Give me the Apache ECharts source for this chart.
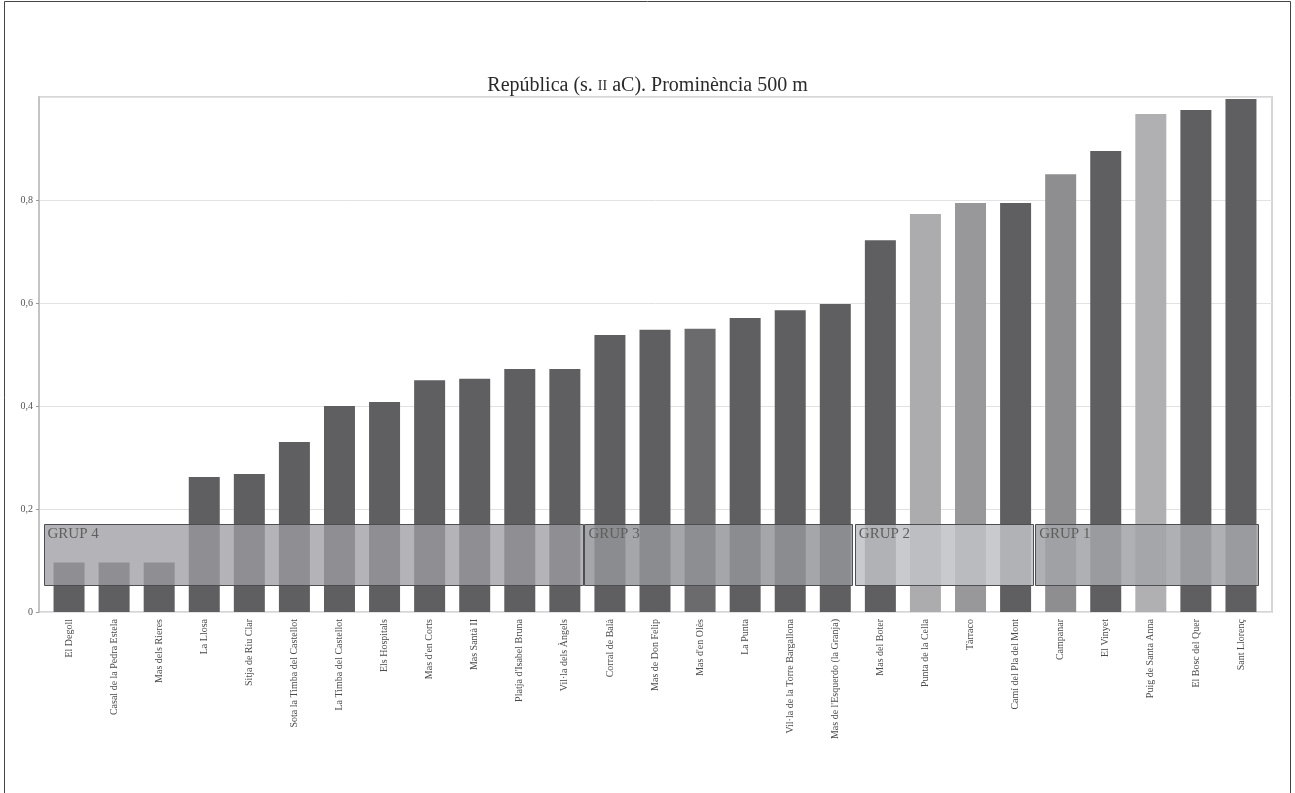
<!DOCTYPE html>
<html>
<head>
<meta charset="utf-8">
<script src="https://cdn.jsdelivr.net/npm/echarts@6/dist/echarts.min.js"></script>
<style>
html,body{margin:0;padding:0;background:#fff;}
#chart{width:1295px;height:793px;}
</style>
</head>
<body>
<div id="chart"></div>
<script>
// ---------- DATA ----------
const titleText = "República (s. {sc|II} aC). Prominència 500 m";
const categories = [
  "El Degoll", "Casal de la Pedra Estela", "Mas dels Rieres", "La Llosa",
  "Sitja de Riu Clar", "Sota la Timba del Castellot", "La Timba del Castellot",
  "Els Hospitals", "Mas d'en Corts", "Mas Santà II", "Platja d'Isabel Bruna",
  "Vil·la dels Àngels", "Corral de Balà", "Mas de Don Felip", "Mas d'en Olès",
  "La Punta", "Vil·la de la Torre Bargallona", "Mas de l'Esquerdo (la Granja)",
  "Mas del Boter", "Punta de la Cella", "Tàrraco", "Camí del Pla del Mont",
  "Campanar", "El Vinyet", "Puig de Santa Anna", "El Bosc del Quer", "Sant Llorenç"
];
const values = [
  0.096, 0.096, 0.096, 0.262, 0.268, 0.330, 0.400, 0.408, 0.450, 0.453,
  0.472, 0.472, 0.538, 0.548, 0.550, 0.571, 0.586, 0.598, 0.722, 0.773,
  0.794, 0.794, 0.850, 0.895, 0.967, 0.975, 0.996
];
const yTicks = [0, 0.2, 0.4, 0.6, 0.8];
const groupNames = ["GRUP 4", "GRUP 3", "GRUP 2", "GRUP 1"];
const groupStart = [0, 12, 18, 22];
const groupEnd = [11, 17, 21, 26];
const groupLow = [0.052, 0.052, 0.052, 0.052];
const groupHigh = [0.171, 0.171, 0.171, 0.171];

// ---------- STYLES ----------
const darkBar = '#5f5f61';
const barColorOverrides = {
  "Mas d'en Olès": '#6b6b6d',
  "Punta de la Cella": '#acacae',
  "Tàrraco": '#98989a',
  "Campanar": '#8e8e90',
  "Puig de Santa Anna": '#b0b0b2'
};
const groupFill = {
  "GRUP 4": 'rgba(157,158,163,0.77)',
  "GRUP 3": 'rgba(148,149,153,0.84)',
  "GRUP 2": 'rgba(192,193,197,0.85)',
  "GRUP 1": 'rgba(163,164,168,0.87)'
};
const serif = '"Liberation Serif", "DejaVu Serif", serif';

const chart = echarts.init(document.getElementById('chart'));

const barData = categories.map((c, i) => ({
  value: values[i],
  itemStyle: { color: barColorOverrides[c] || darkBar }
}));

const groupData = groupNames.map((g, i) => ({
  name: g,
  value: [groupStart[i], groupEnd[i], groupLow[i], groupHigh[i]]
}));

const option = {
  animation: false,
  backgroundColor: '#ffffff',
  title: {
    text: titleText,
    left: 'center',
    top: 71,
    textStyle: {
      fontFamily: serif, fontSize: 20, fontWeight: 'normal', color: '#2a2a2a',
      rich: { sc: { fontFamily: serif, fontSize: 14, color: '#2a2a2a' } }
    }
  },
  graphic: [{
    type: 'rect', silent: true, z: 100,
    shape: { x: 4.5, y: 1.5, width: 1286, height: 820 },
    style: { fill: null, stroke: '#444', lineWidth: 1 }
  }],
  grid: [
    { left: 39, right: 23, top: 97, bottom: 181, show: true, borderColor: '#d6d6d6', borderWidth: 2 },
    { left: 46.5, right: 31.5, top: 97, bottom: 181 }
  ],
  xAxis: [
    { type: 'value', gridIndex: 0, show: false, min: 0, max: 1 },
    {
      type: 'category', gridIndex: 1, data: categories,
      axisLine: { show: false }, axisTick: { show: false },
      axisLabel: {
        rotate: 90, interval: 0, margin: 7,
        fontFamily: serif, fontSize: 10, color: '#4a4a4a'
      }
    }
  ],
  yAxis: [
    {
      type: 'value', gridIndex: 0, min: yTicks[0], max: 1, interval: 0.2,
      axisLine: { show: true, lineStyle: { color: '#c4c4c4', width: 2 } },
      axisTick: { show: true, length: 3, lineStyle: { color: '#999' } },
      axisLabel: {
        showMaxLabel: false, margin: 6,
        fontFamily: serif, fontSize: 10, color: '#555',
        formatter: v => (v === 0 ? '0' : String(Math.round(v * 10) / 10).replace('.', ','))
      },
      splitLine: { show: true, lineStyle: { color: '#e2e2e2', width: 1 } }
    },
    { type: 'value', gridIndex: 1, min: 0, max: 1, show: false }
  ],
  series: [
    {
      type: 'bar', xAxisIndex: 1, yAxisIndex: 1,
      data: barData, barWidth: 31, z: 2
    },
    {
      type: 'custom', xAxisIndex: 1, yAxisIndex: 1, z: 5,
      encode: { x: [0, 1], y: [2, 3] },
      data: groupData,
      renderItem: function (params, api) {
        const s = api.value(0), e = api.value(1), lo = api.value(2), hi = api.value(3);
        const bw = api.size([1, 0])[0];
        const pTop = api.coord([s, hi]);
        const pBot = api.coord([e, lo]);
        const x0 = pTop[0] - bw / 2 - 3;
        const x1 = pBot[0] + bw / 2 - 5;
        const y0 = pTop[1], y1 = pBot[1];
        const name = groupNames[params.dataIndex];
        return {
          type: 'group',
          children: [
            {
              type: 'rect',
              shape: { x: Math.round(x0) + 0.5, y: Math.round(y0) + 0.5, width: Math.round(x1 - x0), height: Math.round(y1 - y0) },
              style: { fill: groupFill[name], stroke: '#4e4e50', lineWidth: 1 }
            },
            {
              type: 'text',
              x: x0 + 4, y: y0 + 3,
              style: { text: name, fill: '#5e5e5e', font: '15px ' + serif, textVerticalAlign: 'top', textAlign: 'left' }
            }
          ]
        };
      }
    }
  ]
};
chart.setOption(option);
</script>
</body>
</html>
